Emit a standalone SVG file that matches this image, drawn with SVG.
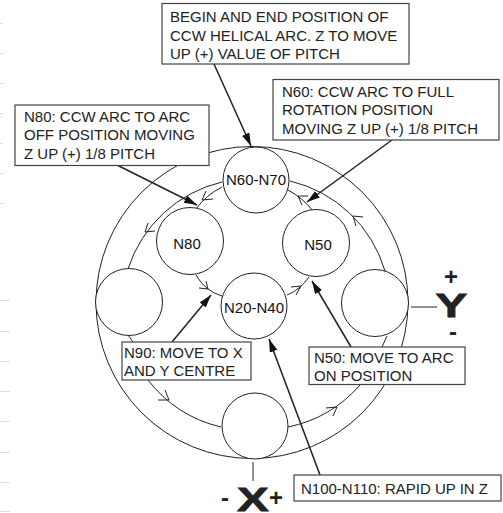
<svg xmlns="http://www.w3.org/2000/svg" width="503" height="513" viewBox="0 0 503 513">
<style>
.c{fill:#fff;stroke:#222;stroke-width:1}
.l{fill:none;stroke:#222;stroke-width:1}
.a{fill:none;stroke:#222;stroke-width:1.5}
.b{fill:#fff;stroke:#444;stroke-width:1.2}
.k{stroke:#ddd;stroke-width:1}
text{font-family:"Liberation Sans","Noto Sans",sans-serif;font-size:15px;fill:#222}
.ax{font-weight:700}
.big{font-size:34px;stroke:#222;stroke-width:.8}
.sym{font-size:24px}
.t{fill:#111}
</style>
<defs><marker id="h" markerUnits="userSpaceOnUse" markerWidth="14" markerHeight="10" refX="13" refY="4" orient="auto"><path d="M0 0L13 4L0 8Z" fill="#111"/></marker></defs>
<g id="ticks">
<path class="k" d="M0 23.5H3M0 53.5H3M0 83.5H3M0 113.5H3M0 143.5H3M0 173.5H3M0 203.5H3M0 300.5H10M0 331.5H10M0 361.5H10M0 391.5H10M0 421.5H10M0 452.5H10M0 482.5H10M0 511.5H10"/>
</g>
<g id="connectors">
<circle class="l" cx="252" cy="302.5" r="156"/>
<path class="l" d="M290 181A130 130 0 0 1 385 271M387 336L382 347M360 385A130 130 0 0 1 288 427M221 427A130 130 0 0 1 148 380M128 335L133 342M128 269A130 130 0 0 1 222 182"/>
<path class="l" d="M222 187Q206 195 196 209M196 275Q205 291 222 296M287 295Q300 290 309 277M313 211Q303 198 288 190"/>
<path class="l" d="M308 196L298 196L302 205M363 217L353 216L356 226M213 199L202 200L206 191M155 231L145 232L148 223M199 288L208 289L206 281M291 287L301 286L296 295M158 400L169 400L165 390M326 408L337 407L333 416"/>
<line class="a" x1="214" y1="64" x2="251" y2="146" marker-end="url(#h)"/>
<line class="a" x1="392" y1="140" x2="307" y2="202" marker-end="url(#h)"/>
<line class="a" x1="117" y1="165" x2="197" y2="205" marker-end="url(#h)"/>
<line class="a" x1="172" y1="342" x2="211" y2="295" marker-end="url(#h)"/>
<line class="a" x1="351" y1="347" x2="312" y2="281" marker-end="url(#h)"/>
<line class="a" x1="320" y1="475" x2="269" y2="339" marker-end="url(#h)"/>
<line class="l" x1="411" y1="307" x2="437" y2="307"/>
<line class="l" x1="253" y1="462" x2="253" y2="481"/>
</g>
<g id="node-n60n70"><circle class="c" cx="256" cy="180" r="33"/><text class="t" x="256" y="185" text-anchor="middle">N60-N70</text></g>
<g id="node-n80"><circle class="c" cx="190" cy="241" r="33.5"/><text class="t" x="187" y="249" text-anchor="middle">N80</text></g>
<g id="node-n50"><circle class="c" cx="316" cy="243" r="33.5"/><text class="t" x="318" y="250" text-anchor="middle">N50</text></g>
<g id="node-left"><circle class="c" cx="129" cy="302" r="33.5"/></g>
<g id="node-right"><circle class="c" cx="375" cy="303" r="33.5"/></g>
<g id="node-n20n40"><circle class="c" cx="254" cy="306" r="33"/><text class="t" x="254" y="313" text-anchor="middle">N20-N40</text></g>
<g id="node-bottom"><circle class="c" cx="255" cy="426" r="33"/></g>
<g id="box-begin"><rect class="b" x="162" y="3.5" width="247" height="60.5"/><text x="170" y="21.5">BEGIN AND END POSITION OF</text><text x="170" y="40.5">CCW HELICAL ARC. Z TO MOVE</text><text x="170" y="59">UP (+) VALUE OF PITCH</text></g>
<g id="box-n60"><rect class="b" x="273" y="79.5" width="226" height="60.5"/><text x="282" y="97">N60: CCW ARC TO FULL</text><text x="282" y="115">ROTATION POSITION</text><text x="282" y="134">MOVING Z UP (+) 1/8 PITCH</text></g>
<g id="box-n80"><rect class="b" x="15" y="105" width="194" height="60.5"/><text x="24" y="122">N80: CCW ARC TO ARC</text><text x="24" y="140">OFF POSITION MOVING</text><text x="24" y="159">Z UP (+) 1/8 PITCH</text></g>
<g id="box-n90"><rect class="b" x="122" y="342" width="129" height="38"/><text x="124" y="358">N90: MOVE TO X</text><text x="124" y="376">AND Y CENTRE</text></g>
<g id="box-n50"><rect class="b" x="309" y="347" width="156" height="37.5"/><text x="314" y="363">N50: MOVE TO ARC</text><text x="314" y="381">ON POSITION</text></g>
<g id="box-n100"><rect class="b" x="294" y="475" width="207" height="26"/><text x="301" y="494">N100-N110: RAPID UP IN Z</text></g>
<g id="axes"><text class="ax sym" x="451" y="285" text-anchor="middle">+</text><text class="ax big" transform="translate(451.5 317) scale(1.4 1)" text-anchor="middle">Y</text><text class="ax sym" x="453" y="340" text-anchor="middle">-</text><text class="ax sym" x="225" y="506" text-anchor="middle">-</text><text class="ax big" transform="translate(253 511) scale(1.4 1)" text-anchor="middle">X</text><text class="ax sym" x="276" y="506" text-anchor="middle">+</text></g>
</svg>
